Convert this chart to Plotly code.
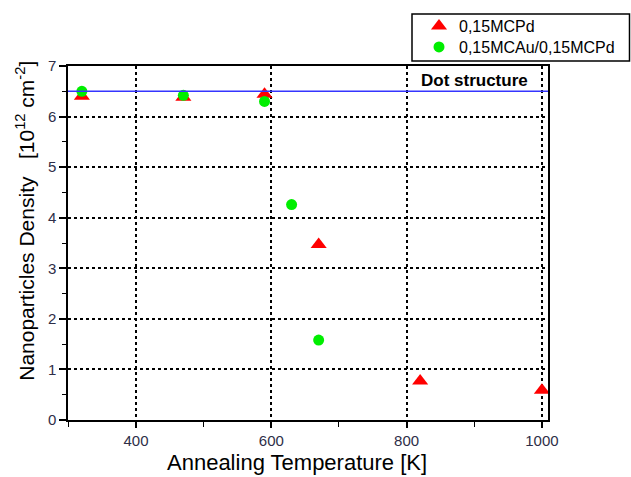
import plotly.graph_objects as go

# Data
pd_temp = [320, 470, 590, 670, 820, 1000]
pd_density = [6.40, 6.38, 6.44, 3.47, 0.77, 0.59]
au_temp = [320, 470, 590, 630, 670]
au_density = [6.50, 6.42, 6.30, 4.26, 1.58]
dot_level = 6.5
x_ticks = [400, 600, 800, 1000]
y_ticks = [0, 1, 2, 3, 4, 5, 6, 7]

FONT = "Liberation Sans, Arial, sans-serif"
TICKCOL = "#2e2e48"

# plot area in pixels
L, R, T, B = 68, 548, 66, 420.5
PW, PH = R - L, B - T


def px(x):
    return (x - L) / PW


def py(y):
    return (B - y) / PH


fig = go.Figure()
fig.add_trace(go.Scatter(
    x=pd_temp, y=pd_density, mode="markers", name="0,15MCPd", legend="legend",
    marker=dict(symbol="triangle-up", size=14, color="#ff0000"),
))
fig.add_trace(go.Scatter(
    x=au_temp, y=au_density, mode="markers", name="0,15MCAu/0,15MCPd", legend="legend2",
    marker=dict(symbol="circle", size=11, color="#00ee00"),
))

fig.add_shape(type="line", xref="paper", x0=0, x1=1, yref="y", y0=dot_level, y1=dot_level,
              line=dict(color="#3535ff", width=1.5), layer="above")

# legend frame
fig.add_shape(type="rect", xref="paper", yref="paper", x0=px(412), x1=px(629.5),
              y0=py(61), y1=py(14), line=dict(color="black", width=1.5), fillcolor="white",
              layer="above")

fig.add_annotation(text="<b>Dot structure</b>", xref="paper", yref="paper",
                   x=px(474), y=py(81), showarrow=False,
                   xanchor="center", yanchor="middle",
                   font=dict(family=FONT, size=17, color="black"))

fig.add_annotation(text="Annealing Temperature [K]", xref="paper", yref="paper",
                   x=px(297), y=py(463), showarrow=False,
                   xanchor="center", yanchor="middle",
                   font=dict(family=FONT, size=22, color="black"))
fig.add_annotation(text="Nanoparticles Density   [10<sup>12</sup> cm<sup>-2</sup>]",
                   xref="paper", yref="paper", textangle=-90,
                   x=px(25), y=py(221), showarrow=False,
                   xanchor="center", yanchor="middle",
                   font=dict(family=FONT, size=21, color="black"))

leg_common = dict(xanchor="left", yanchor="middle", borderwidth=0,
                  bgcolor="rgba(0,0,0,0)",
                  font=dict(family=FONT, size=16, color="black"), itemwidth=30)

fig.update_layout(
    width=631, height=477,
    margin=dict(l=L, r=631 - R, t=T, b=477 - B, autoexpand=False),
    paper_bgcolor="white", plot_bgcolor="white",
    showlegend=True,
    legend=dict(x=px(419), y=py(26), **leg_common),
    legend2=dict(x=px(419), y=py(47), **leg_common),
    xaxis=dict(range=[299.5, 1009], tickmode="linear", tick0=400, dtick=200,
               ticks="outside", ticklen=6, tickwidth=1.5,
               tickcolor="black", showline=True, linewidth=1.5, linecolor="black", mirror=True,
               showgrid=True, gridcolor="black", gridwidth=1.5, griddash="3px,3px", zeroline=False,
               tickfont=dict(family=FONT, size=15, color=TICKCOL),
               minor=dict(tick0=300, dtick=100, ticks="outside", ticklen=5,
                          tickwidth=1.2, tickcolor="black", showgrid=False)),
    yaxis=dict(range=[0, 7], tickmode="linear", tick0=0, dtick=1,
               ticks="outside", ticklen=7, tickwidth=1.5,
               tickcolor="black", showline=True, linewidth=1.5, linecolor="black", mirror=True,
               showgrid=True, gridcolor="black", gridwidth=1.5, griddash="3px,3px", zeroline=False,
               tickfont=dict(family=FONT, size=15, color=TICKCOL),
               minor=dict(dtick=0.5, tick0=0, ticks="outside", ticklen=4,
                          tickwidth=1.2, tickcolor="black", showgrid=False)),
)

fig.write_html("out.html")
